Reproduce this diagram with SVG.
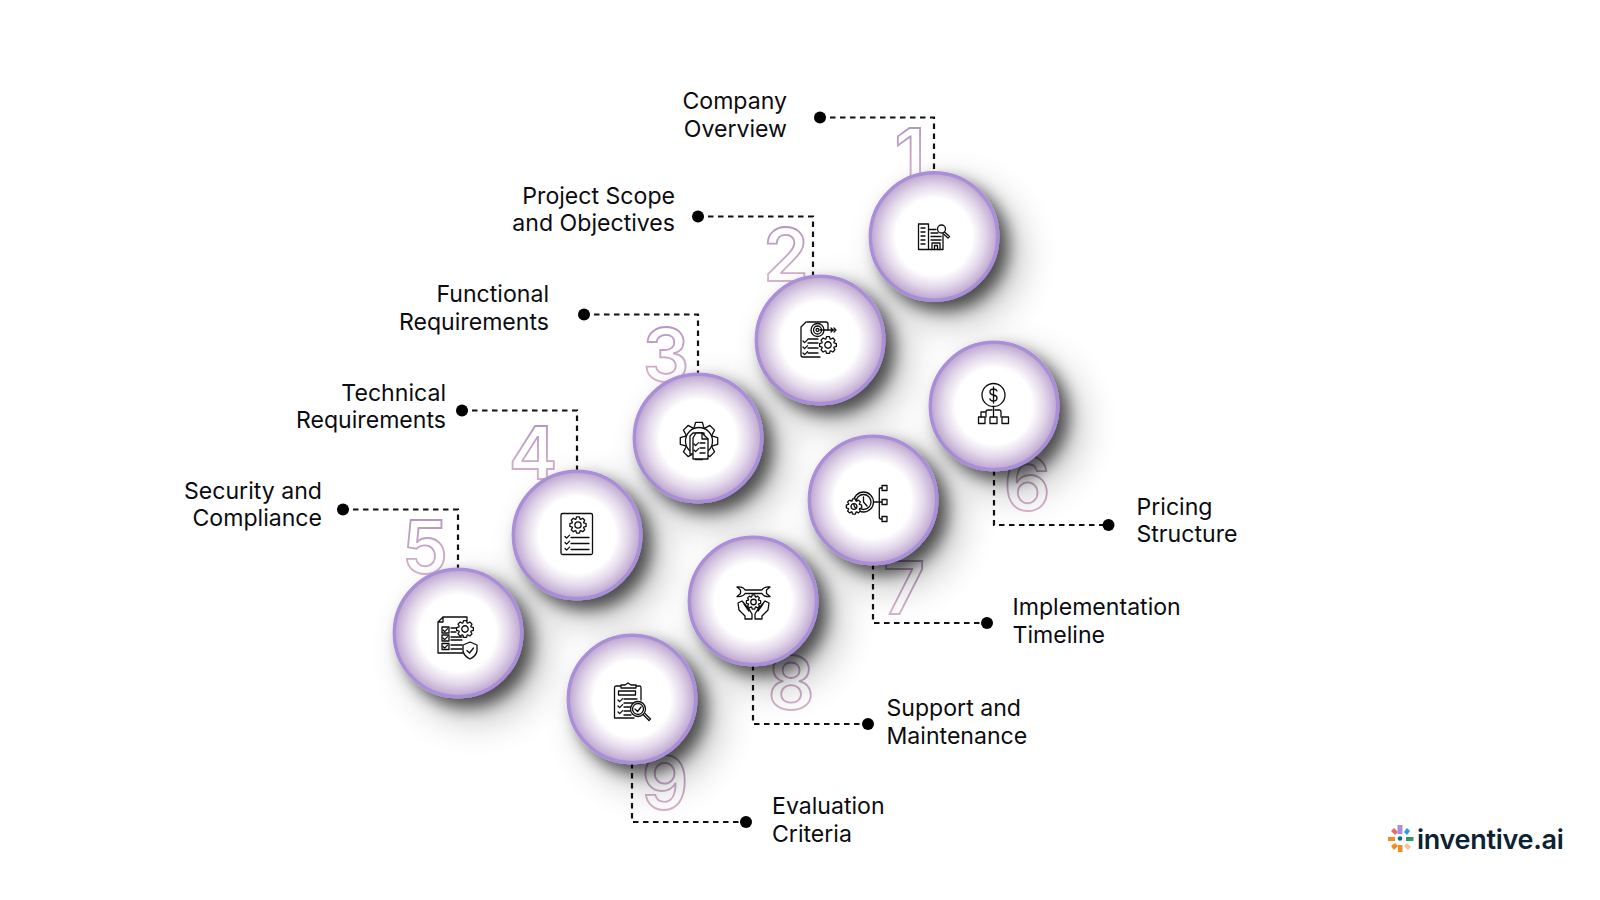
<svg xmlns="http://www.w3.org/2000/svg" xmlns:xlink="http://www.w3.org/1999/xlink" width="1600" height="900" viewBox="0 0 1600 900">
<style>
.lbl{font:400 23.100px Inter,"Liberation Sans",sans-serif;fill:#0b0b10}
.end{text-anchor:end}
.num{font:600 73px Inter,"Liberation Sans",sans-serif;fill:none;stroke:url(#numg);stroke-width:1.8;text-anchor:middle}
.disc{fill:url(#disc);stroke:#a98fd8;stroke-width:3.5;filter:url(#sh)}
.ic{fill:none;stroke:#0c0c0c;stroke-width:1.3;stroke-linecap:round;stroke-linejoin:round}
.ic *{vector-effect:non-scaling-stroke}
.wd{fill:#fff}
#conn path{fill:none;stroke:#111;stroke-width:2.2;stroke-dasharray:5.5 4.5}
#conn circle{fill:#000}
</style>
<defs>
<linearGradient id="numg" x1="0" y1="0" x2="0" y2="1"><stop offset="0" stop-color="#a98fc0"/><stop offset="1" stop-color="#e2bccd"/></linearGradient>
<radialGradient id="disc"><stop offset="0" stop-color="#fff"/><stop offset=".6" stop-color="#fff"/><stop offset=".8" stop-color="#e3d8ea"/><stop offset="1" stop-color="#bda4cf"/></radialGradient>
<filter id="sh" x="-50%" y="-50%" width="220%" height="220%">
<feGaussianBlur in="SourceAlpha" stdDeviation="8" result="b1"/><feOffset in="b1" dx="9" dy="9" result="o1"/>
<feGaussianBlur in="SourceAlpha" stdDeviation="20" result="b2"/><feOffset in="b2" dx="18" dy="18" result="o2"/>
<feComponentTransfer in="o1" result="a1"><feFuncA type="linear" slope=".6"/></feComponentTransfer>
<feComponentTransfer in="o2" result="a2"><feFuncA type="linear" slope=".3"/></feComponentTransfer>
<feMerge><feMergeNode in="a2"/><feMergeNode in="a1"/><feMergeNode in="SourceGraphic"/></feMerge>
</filter>
<path id="gear0" vector-effect="non-scaling-stroke" d="M9.85 -1.74L9.85 1.74L7.05 2.57L6.8 3.17L8.19 5.74L5.74 8.19L3.17 6.8L2.57 7.05L1.74 9.85L-1.74 9.85L-2.57 7.05L-3.17 6.8L-5.74 8.19L-8.19 5.74L-6.8 3.17L-7.05 2.57L-9.85 1.74L-9.85 -1.74L-7.05 -2.57L-6.8 -3.17L-8.19 -5.74L-5.74 -8.19L-3.17 -6.8L-2.57 -7.05L-1.74 -9.85L1.74 -9.85L2.57 -7.05L3.17 -6.8L5.74 -8.19L8.19 -5.74L6.8 -3.17L7.05 -2.57Z"/>
<path id="gear" vector-effect="non-scaling-stroke" d="M9.85 -1.74L9.85 1.74L7.05 2.57L6.8 3.17L8.19 5.74L5.74 8.19L3.17 6.8L2.57 7.05L1.74 9.85L-1.74 9.85L-2.57 7.05L-3.17 6.8L-5.74 8.19L-8.19 5.74L-6.8 3.17L-7.05 2.57L-9.85 1.74L-9.85 -1.74L-7.05 -2.57L-6.8 -3.17L-8.19 -5.74L-5.74 -8.19L-3.17 -6.8L-2.57 -7.05L-1.74 -9.85L1.74 -9.85L2.57 -7.05L3.17 -6.8L5.74 -8.19L8.19 -5.74L6.8 -3.17L7.05 -2.57ZM3.8 0A3.8 3.8 0 1 0 -3.8 0A3.8 3.8 0 1 0 3.8 0Z"/>
<path id="chk" d="M0 0l1.6 1.6 3-3"/>
</defs>
<rect width="1600" height="900" fill="#fff"/>
<g id="conn">
<path d="M820 117.5H934V172"/><circle cx="820" cy="117.5" r="6"/>
<path d="M698 216.5H813V276"/><circle cx="698" cy="216.5" r="6"/>
<path d="M584 314.5H698V374"/><circle cx="584" cy="314.5" r="6"/>
<path d="M462 410.5H577V471"/><circle cx="462" cy="410.5" r="6"/>
<path d="M343 509.5H458V569"/><circle cx="343" cy="509.5" r="6"/>
<path d="M994 470V525H1108"/><circle cx="1108.500" cy="525" r="6"/>
<path d="M873 564V623H987"/><circle cx="987" cy="623" r="6"/>
<path d="M753 665V724H868"/><circle cx="868" cy="724" r="6"/>
<path d="M632 763V822H746"/><circle cx="746" cy="822" r="6"/>
</g>

<g id="node1">
<text class="num" x="910" y="181">1</text>
<circle class="disc" cx="934" cy="236.500" r="63.700"/>
<g class="ic"><path d="M918.500 224H928.500V249.500H918.500ZM928.500 229.500H936M928.500 249.500H943V235M921 228H925M921 232H925M921 236H925M921 240H925M921 244H925M931 233H938M931 236.500H941M931 240H941"/><path d="M932 249.500V243H940V249.500M934.500 249.500V245.500H937.500V249.500"/><circle cx="941.500" cy="229" r="4"/><path d="M944.500 232L949.500 236.500L948 238L943 233.500"/></g>
<text class="lbl end" x="787" y="109">Company</text><text class="lbl end" x="787" y="137">Overview</text>
</g>

<g id="node2">
<text class="num" x="786" y="281">2</text>
<circle class="disc" cx="820" cy="340" r="63.700"/>
<g class="ic"><path d="M807 322H826Q828 322 828 324V330M806 322L801 327V355Q801 357 803 357H820"/><circle cx="817.500" cy="330" r="6.500"/><circle cx="817.500" cy="330" r="4"/><circle cx="817.500" cy="330" r="1.500"/><path d="M820 330H834M831 328L833 330L831 332M834 328L836 330L834 332M808 339H818M808 343H818M808 348H818M808 353H818"/><use href="#chk" x="803" y="341"/><use href="#chk" x="803" y="347"/><use href="#chk" x="803" y="353"/><use href="#gear" class="wd" transform="translate(828 345) scale(.85)"/></g>
<text class="lbl end" x="675" y="204">Project Scope</text><text class="lbl end" x="675" y="231">and Objectives</text>
</g>

<g id="node3">
<text class="num" x="666" y="381">3</text>
<circle class="disc" cx="698" cy="438" r="63.700"/>
<g class="ic"><use href="#gear0" transform="translate(699 441) scale(1.9)"/><circle cx="699" cy="441" r="13.500"/><path class="wd" d="M690 436V454H704V433H693Z"/><path class="wd" d="M693 438V459H708V439L702 433H696Z"/><path d="M702 433V439H708M700 443H705M700 448H705M700 453H705"/><use href="#chk" x="694" y="444"/><use href="#chk" x="694" y="450"/></g>
<text class="lbl end" x="549" y="302">Functional</text><text class="lbl end" x="549" y="330">Requirements</text>
</g>

<g id="node4">
<text class="num" x="533" y="479">4</text>
<circle class="disc" cx="577" cy="535" r="63.700"/>
<g class="ic"><rect x="561" y="513.500" width="31.500" height="41" rx="1.500"/><use href="#gear" transform="translate(578 525) scale(.82)"/><path d="M571 537.500H589M571 543.500H589M571 549.500H589"/><use href="#chk" x="565" y="536.500"/><use href="#chk" x="565" y="542.500"/><use href="#chk" x="565" y="548.500"/></g>
<text class="lbl end" x="446" y="401">Technical</text><text class="lbl end" x="446" y="428">Requirements</text>
</g>

<g id="node5">
<text class="num" x="425" y="573">5</text>
<circle class="disc" cx="458" cy="633" r="63.700"/>
<g class="ic"><path d="M443 617H467V621M443 617L438 622V653H463M443 617V622H438"/><rect x="442" y="627" width="7" height="6"/><rect x="442" y="635" width="7" height="6"/><rect x="442" y="643.500" width="7" height="6"/><path d="M451 628H456M451 632H456M451 637H462M451 640H462M451 645H462M451 649H462"/><use href="#chk" x="443" y="630"/><use href="#chk" x="443" y="638"/><use href="#chk" x="443" y="646.500"/><use href="#gear" transform="translate(465 629) scale(.85)" class="wd"/><path class="wd" d="M470 642L477 645V651Q476 656 470 659Q464 656 463 651V645Z"/><path d="M467 650.500L469.500 653L473.500 648"/></g>
<text class="lbl end" x="322" y="499">Security and</text><text class="lbl end" x="322" y="526">Compliance</text>
</g>

<g id="node6">
<text class="num" x="1027" y="510">6</text>
<circle class="disc" cx="994" cy="406" r="63.700"/>
<g class="ic"><circle cx="993.500" cy="395" r="11.500"/><path d="M997 391Q996 389 993.500 389Q990 389 990 392Q990 394.500 993.500 395Q997 395.500 997 398Q997 401 993.500 401Q990.500 401 990 399M993.500 387V403M993.500 406.500V417M986 417V412Q986 410 988 410H992M1001 417V412Q1001 410 999 410H995M986 412L981 412V417"/><rect x="978.500" y="417" width="6.500" height="6.500"/><rect x="990" y="417" width="7" height="6.500"/><rect x="1002" y="417" width="6.500" height="6.500"/></g>
<text class="lbl" x="1136.500" y="514.500">Pricing</text><text class="lbl" x="1136.500" y="542">Structure</text>
</g>

<g id="node7">
<text class="num" x="904" y="614">7</text>
<circle class="disc" cx="873" cy="500" r="63.700"/>
<g class="ic"><circle cx="863.500" cy="502" r="10"/><circle cx="863.500" cy="502" r="7.500"/><path d="M863.500 497V502L867 506M873.500 502H882M882 488H880Q879.300 488 879.300 489V517Q879.300 519 881 519H882"/><rect x="882" y="485.500" width="5" height="5"/><rect x="882" y="499.500" width="5" height="5"/><rect x="882" y="516.500" width="5" height="5"/><use href="#gear" class="wd" transform="translate(854 506.500) scale(.78)"/></g>
<text class="lbl" x="1012.500" y="615">Implementation</text><text class="lbl" x="1012.500" y="643">Timeline</text>
</g>

<g id="node8">
<text class="num" x="791" y="709">8</text>
<circle class="disc" cx="753" cy="601" r="63.700"/>
<g class="ic"><path d="M745 590H762Q764 586.500 770 587L766.500 590V593.500L770 596.500Q764 597 762 593.500H745Q743 597 737 596.500L740.500 593.500V590L737 587Q743 586.500 745 590Z"/><use href="#gear" transform="translate(753.500 602) scale(.72)"/><path d="M738 603L742 601L749 609L752 614V619H745V616L739 610ZM769 603L765 601L758 609L755 614V619H762V616L768 610ZM744 604L749 611M763 604L758 611"/></g>
<text class="lbl" x="886.500" y="715.500">Support and</text><text class="lbl" x="886.500" y="743.500">Maintenance</text>
</g>

<g id="node9">
<text class="num" x="665" y="809">9</text>
<circle class="disc" cx="632" cy="699" r="63.700"/>
<g class="ic"><path d="M621 686H616Q614.500 686 614.500 688V718H634M636 686H640Q641 686 641 688V700M621 688V685H625L628 683L631 685H636V688Z"/><rect x="618.500" y="691" width="17" height="4"/><use href="#chk" x="618" y="700"/><use href="#chk" x="618" y="706"/><use href="#chk" x="618" y="712"/><path d="M624 699H637M624 703H634M624 707H630M624 711H630M624 715H631"/><circle class="wd" cx="638" cy="709" r="7.500"/><circle cx="638" cy="709" r="5.500"/><path d="M635 709L637.500 711.500L641 707M643.500 715L649 720.500L650.500 719L645 713.500"/></g>
<text class="lbl" x="772" y="814">Evaluation</text><text class="lbl" x="772" y="842">Criteria</text>
</g>

<g id="logo">
<rect x="1397.500" y="825" width="5" height="9" fill="#a88ee0"/>
<rect x="1406" y="837" width="7.500" height="4" fill="#2f9a55"/>
<rect x="1398" y="845" width="4.500" height="7" fill="#f58a1f"/>
<rect x="1388" y="837" width="7" height="4" fill="#f58a1f"/>
<circle cx="1400" cy="838.500" r="2.300" fill="#0d6b8a"/>
<path d="M1391 831l3-3 4 4-3 3z" fill="#ef6a6a"/>
<path d="M1404 832l3-4 3 3-3 4z" fill="#2a9ad8"/>
<path d="M1391 846l4-3 3 3-4 4z" fill="#f58a1f"/>
<path d="M1404 846l3-3 4 4-3 3z" fill="#f2c39c"/>
<text x="1417" y="849" style="font:600 27px Inter,'Liberation Sans',sans-serif;fill:#0c2233;letter-spacing:-.3px">inventive.ai</text>
</g>
</svg>
